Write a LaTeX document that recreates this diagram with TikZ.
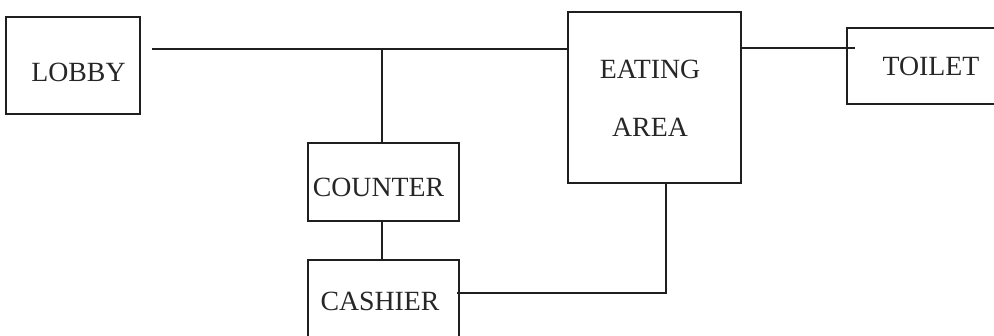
\documentclass[tikz,border=0pt]{standalone}
\usepackage{fontspec}
\setmainfont{Liberation Serif}
\begin{document}
\begin{tikzpicture}[x=1pt,y=-1pt,
  room/.style={draw=black!88,line width=1.2pt,inner sep=0pt,rectangle},
  roomname/.style={font=\fontsize{27.8}{30}\selectfont,text=black!85,inner sep=0pt,anchor=center},
  link/.style={draw=black!88,line width=1.2pt}]
  \clip (0,0) rectangle (994,335);
  % rooms
  \node[room,minimum width=134pt,minimum height=97pt] (lobby) at (73,65.5) {};
  \node[room,minimum width=173pt,minimum height=171pt] (eating) at (654.5,97.5) {};
  \node[room,minimum width=168pt,minimum height=76pt] (toilet) at (931,66) {};
  \node[room,minimum width=151pt,minimum height=78pt] (counter) at (383.5,182) {};
  \node[room,minimum width=151pt,minimum height=82pt] (cashier) at (383.5,301) {};
  % room names
  \node[roomname] (lobbyname) at (78.5,72) {LOBBY};
  \node[roomname] (eatingname1) at (650,69) {EATING};
  \node[roomname] (eatingname2) at (650,127) {AREA};
  \node[roomname] (toiletname) at (931,66.5) {TOILET};
  \node[roomname] (countername) at (378.5,187) {COUNTER};
  \node[roomname] (cashiername) at (380,301) {CASHIER};
  % corridor from the lobby to the eating area
  \coordinate (corridor) at (152,49);
  \coordinate (countertap) at (382,49);
  \coordinate (toiletend) at (855,48);
  \coordinate (cashierend) at (457,293);
  \coordinate (bend) at (666,293);
  \draw[link] (corridor) -- (corridor -| eating.west);
  \draw[link] (countertap) -- (countertap |- counter.north);
  \draw[link] (eating.east |- toiletend) -- (toiletend);
  \draw[link] (countertap |- counter.south) -- (countertap |- cashier.north);
  \draw[link] (cashierend) -- (bend) -- (bend |- eating.south);
\end{tikzpicture}
\end{document}
